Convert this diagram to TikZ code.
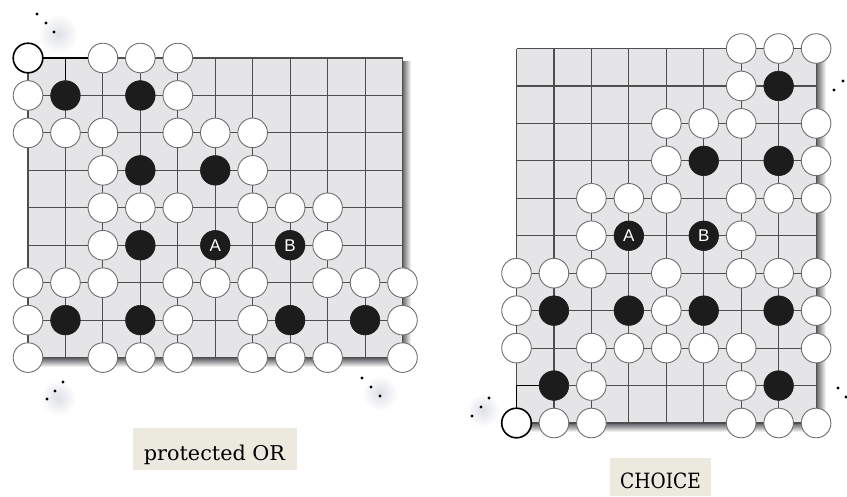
\documentclass[tikz,border=0pt]{standalone}
\usepackage{fontspec}
\setmainfont{DejaVu Serif}
\newfontfamily\lblsans{Liberation Sans}
\usepackage{graphicx}
\definecolor{boardfill}{RGB}{229,229,232}
\definecolor{gridc}{RGB}{78,78,78}
\definecolor{stoneedge}{RGB}{110,110,110}
\definecolor{stoneblack}{RGB}{28,28,28}
\definecolor{beige}{RGB}{236,233,223}
\definecolor{shadowc}{RGB}{95,95,100}
\definecolor{blurc}{RGB}{222,224,230}
\tikzset{
  wstone/.style={circle, draw=stoneedge, fill=white, line width=0.9pt, minimum size=29.6pt, inner sep=0pt},
  bstone/.style={circle, draw=stoneblack, fill=stoneblack, line width=0.6pt, minimum size=29.6pt, inner sep=0pt},
  lstone/.style={bstone, text=white, font=\lblsans\fontsize{17}{17}\selectfont},
  cornerstone/.style={wstone, draw=black, line width=1.6pt},
  gridline/.style={draw=gridc, line width=1.1pt},
  edgelink/.style={draw=black, line width=1.7pt},
  dotmark/.style={circle, fill=black, minimum size=3.2pt, inner sep=0pt},
  dotblur/.style={inner color=blurc, outer color=white},
  labeltext/.style={anchor=base, inner sep=0pt, text=black},
}
\begin{document}
\begin{tikzpicture}[x=1pt, y=-1pt]
\useasboundingbox (0,0) rectangle (847,496);
\fill[white] (0,0) rectangle (847,496);

% ================= LEFT BOARD =================
\def\s{37.45}
% faint blur behind the ellipsis dots
\shade[dotblur] (58,34) circle (20);
\shade[dotblur] (58,398) circle (18);
\shade[dotblur] (380,393) circle (18);
% shadows
\shade[left color=shadowc, right color=white] (402,61) rectangle (411,364);
\shade[top color=shadowc, bottom color=white] (30,358) rectangle (406,367);
\fill[boardfill] (28,58) rectangle ({28+10*\s},{58+8*\s});
\foreach \i in {0,...,10}
  \draw[gridline] ({28+\i*\s},58) -- ({28+\i*\s},{58+8*\s});
\foreach \j in {0,...,8}
  \draw[gridline] (28,{58+\j*\s}) -- ({28+10*\s},{58+\j*\s});

% white stones
\foreach \c/\r in {2/0,3/0,4/0,
                   0/1,4/1,
                   0/2,1/2,2/2,4/2,5/2,6/2,
                   2/3,6/3,
                   2/4,3/4,4/4,6/4,7/4,8/4,
                   2/5,8/5,
                   0/6,1/6,2/6,4/6,5/6,6/6,8/6,9/6,10/6,
                   0/7,4/7,6/7,10/7,
                   0/8,2/8,3/8,4/8,6/8,7/8,8/8,10/8}
  \node[wstone] (L-\c-\r) at ({28+\c*\s},{58+\r*\s}) {};
% black stones
\foreach \c/\r in {1/1,3/1,3/3,5/3,3/5,1/7,3/7,7/7,9/7}
  \node[bstone] (L-\c-\r) at ({28+\c*\s},{58+\r*\s}) {};
\node[lstone] (L-A) at ({28+5*\s},{58+5*\s}) {A};
\node[lstone] (L-B) at ({28+7*\s},{58+5*\s}) {B};
% corner stone and edge link
\coordinate (L-top1) at ({28+1*\s},58);
\draw[edgelink] ({28+0.4*\s},58) -- ({28+1.6*\s},58);
\draw[edgelink] (L-top1) -- (L-1-1);
\node[cornerstone] (L-0-0) at (28,58) {};

% dots
\foreach \x/\y/\n in {37/14/a,46/23/b,54/32/c, 63/382/d,55/391/e,47/399/f, 362/378/g,371/387/h,380/396/i}
  \node[dotmark] (Ld-\n) at (\x,\y) {};

% label
\fill[beige] (133,428) rectangle (297,470);
\node[labeltext] (L-label) at (214.5,460) {\scalebox{1.06}[1.04]{\fontsize{19.6}{22}\selectfont protected OR}};

% ================= RIGHT BOARD =================
\shade[dotblur] (483,410) circle (17);
\shade[left color=shadowc, right color=white] (816,51) rectangle (826,429);
\shade[top color=shadowc, bottom color=white] (519,423) rectangle (821,432);
\fill[boardfill] (516.5,48.5) rectangle ({516.5+8*\s},{48.5+10*\s});
\foreach \i in {0,...,8}
  \draw[gridline] ({516.5+\i*\s},48.5) -- ({516.5+\i*\s},{48.5+10*\s});
\foreach \j in {0,...,10}
  \draw[gridline] (516.5,{48.5+\j*\s}) -- ({516.5+8*\s},{48.5+\j*\s});

\foreach \c/\r in {6/0,7/0,8/0,
                   6/1,
                   4/2,5/2,6/2,8/2,
                   4/3,8/3,
                   2/4,3/4,4/4,6/4,7/4,8/4,
                   2/5,6/5,
                   0/6,1/6,2/6,4/6,6/6,7/6,8/6,
                   0/7,4/7,8/7,
                   0/8,2/8,3/8,4/8,5/8,6/8,8/8,
                   2/9,6/9,
                   1/10,2/10,6/10,7/10,8/10}
  \node[wstone] (R-\c-\r) at ({516.5+\c*\s},{48.5+\r*\s}) {};
\foreach \c/\r in {7/1,5/3,7/3,1/7,3/7,5/7,7/7,1/9,7/9}
  \node[bstone] (R-\c-\r) at ({516.5+\c*\s},{48.5+\r*\s}) {};
\node[lstone] (R-A) at ({516.5+3*\s},{48.5+5*\s}) {A};
\node[lstone] (R-B) at ({516.5+5*\s},{48.5+5*\s}) {B};
\coordinate (R-c9) at (516.5,{48.5+9*\s});
\node[cornerstone] (R-0-10) at (516.5,{48.5+10*\s}) {};
\draw[edgelink] (R-0-10) -- (R-c9) -- (R-1-9);

\foreach \x/\y/\n in {834/90/a,843/81/b, 838/388/c,846/397/d, 472/416/e,481/407/f,489/398/g}
  \node[dotmark] (Rd-\n) at (\x,\y) {};

\fill[beige] (610,458) rectangle (711,496);
\node[labeltext] (R-label) at (660.5,488) {\scalebox{0.9}[1.02]{\fontsize{20.6}{23}\selectfont CHOICE}};
\end{tikzpicture}
\end{document}
